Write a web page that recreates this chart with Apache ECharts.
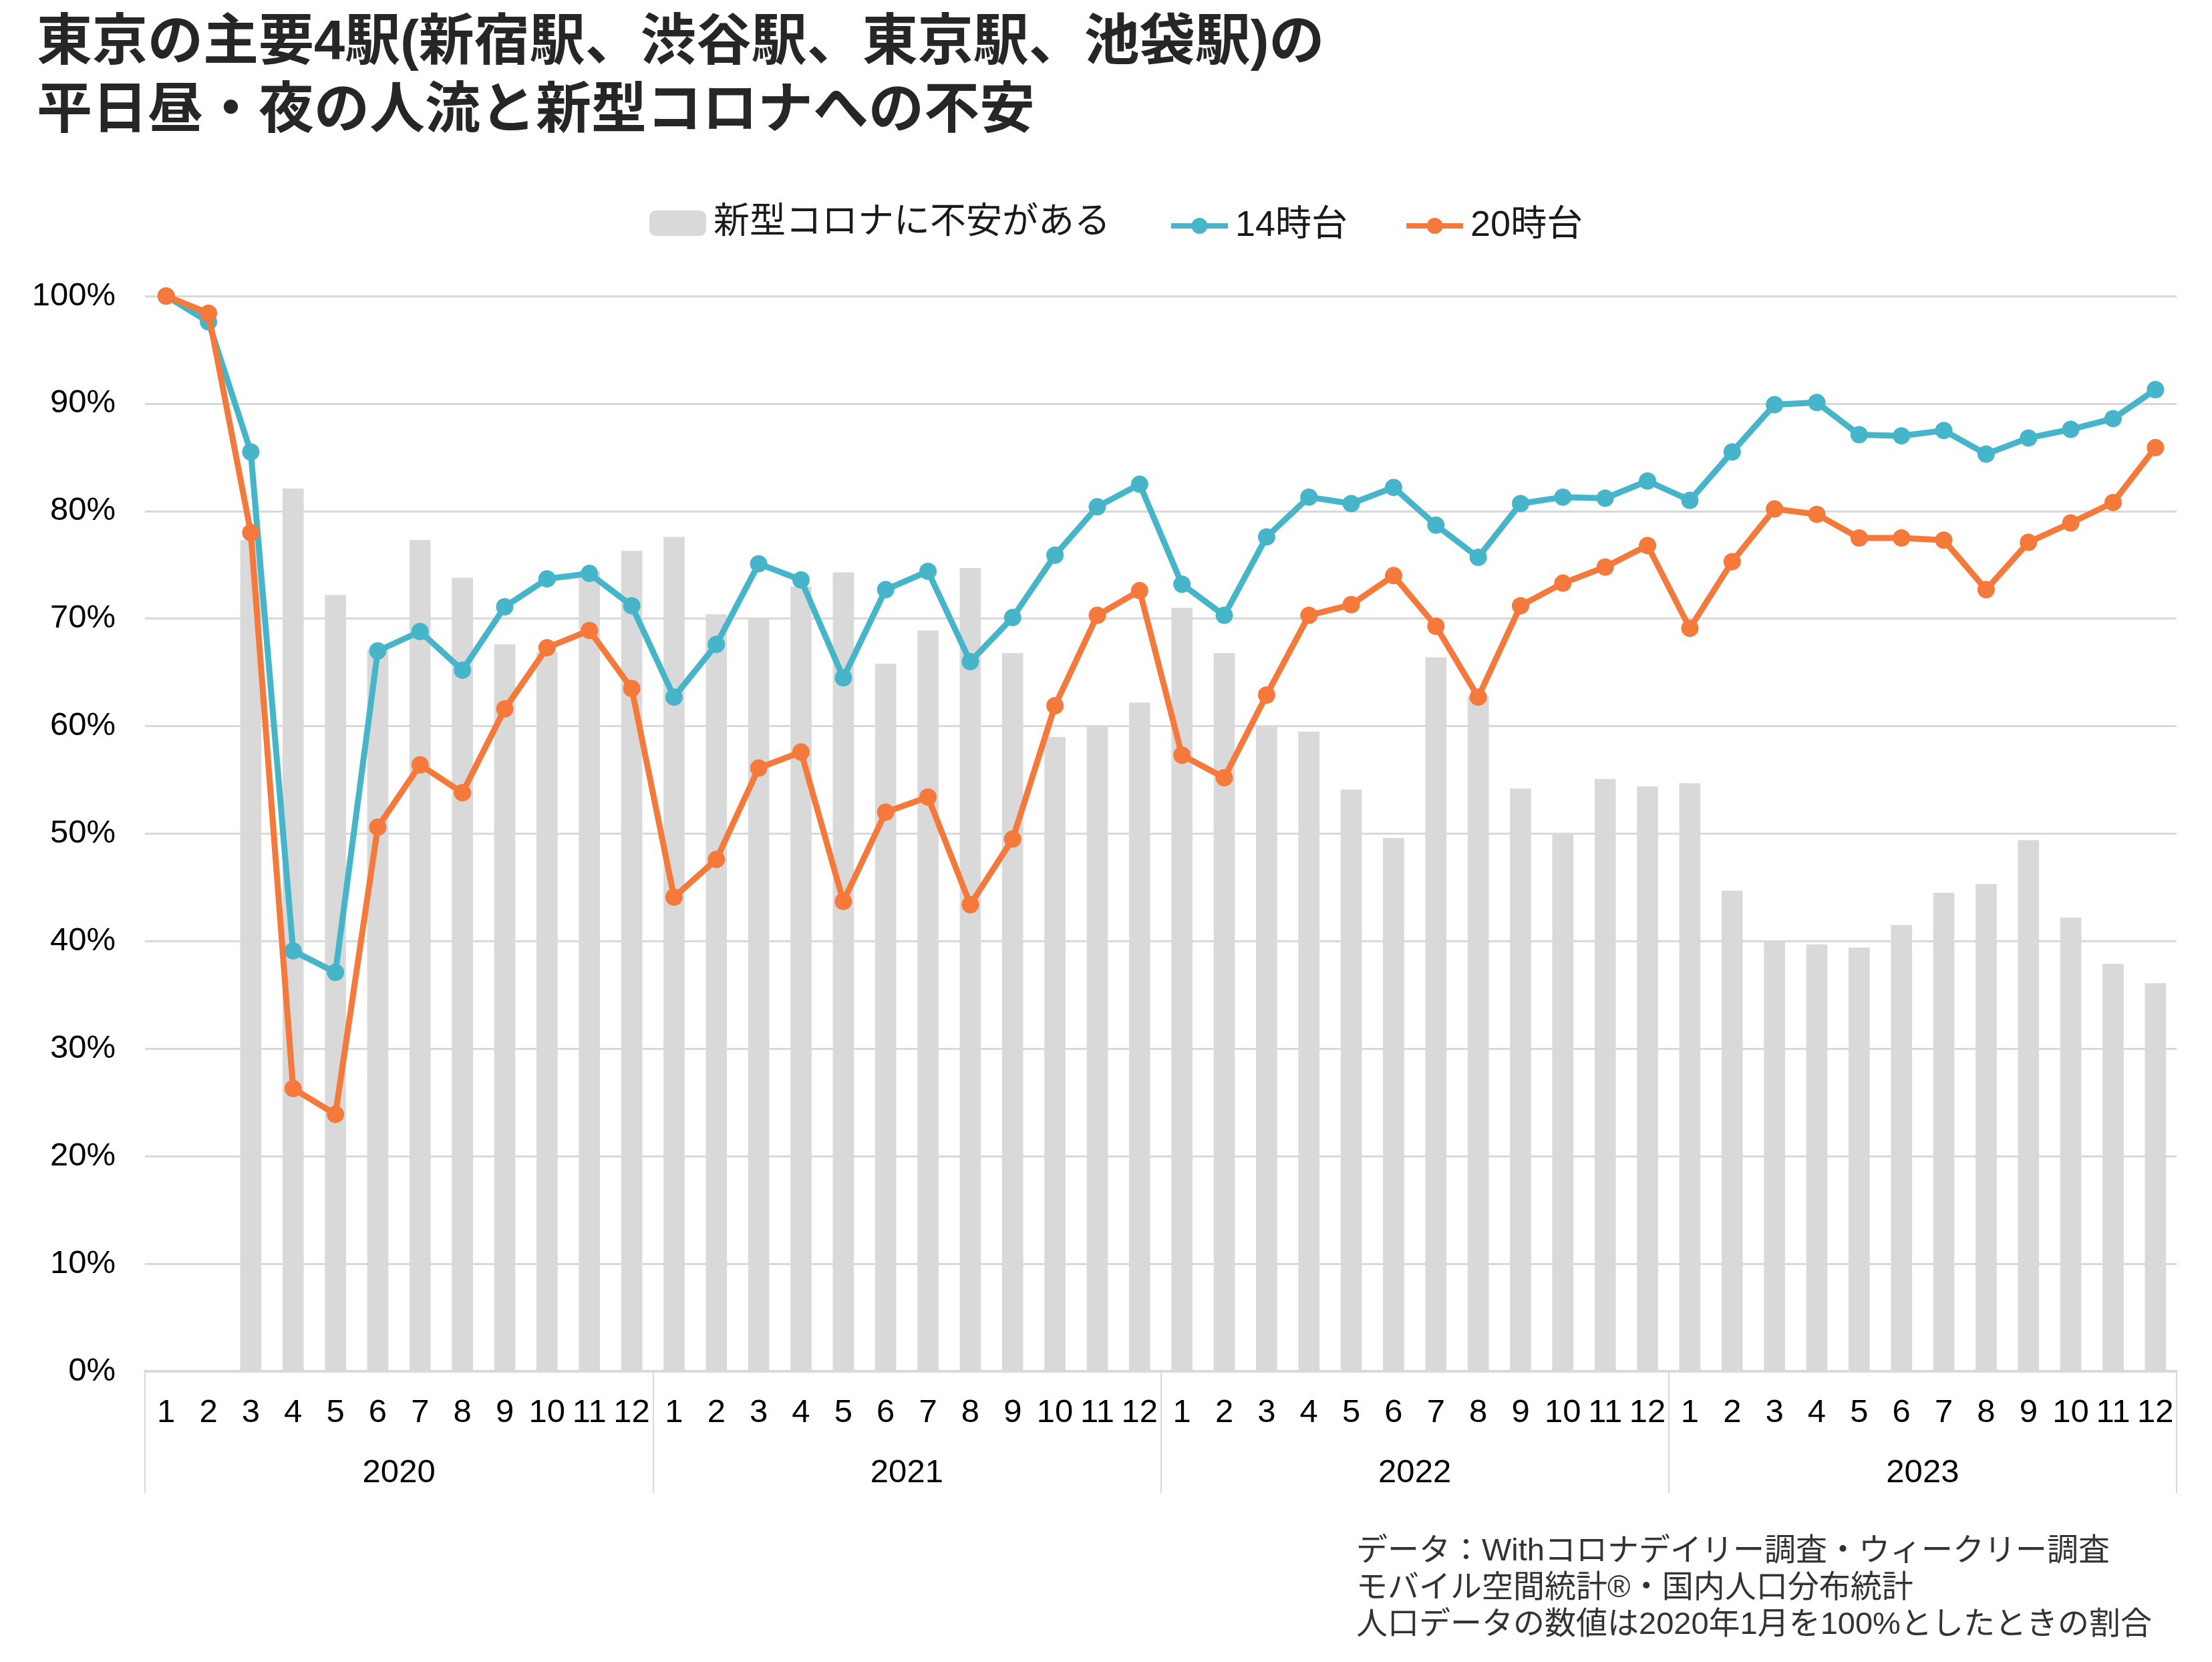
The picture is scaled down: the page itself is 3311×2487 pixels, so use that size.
<!DOCTYPE html>
<html>
<head>
<meta charset="utf-8">
<script src="https://cdn.jsdelivr.net/npm/echarts@6/dist/echarts.min.js"></script>
<style>
html,body{margin:0;padding:0;background:#fff;}
#chart{width:3311px;height:2487px;}
</style>
</head>
<body>
<div id="chart"></div>
<script>
// ---- data ----
const years = ['2020', '2021', '2022', '2023'];
const months = ['1','2','3','4','5','6','7','8','9','10','11','12'];

// 新型コロナに不安がある (%)
const anxiety2020 = [null, null, 77.3, 82.1, 72.2, 67.1, 77.3, 73.8, 67.6, 66.9, 74.4, 76.3];
const anxiety2021 = [77.6, 70.4, 70.0, 73.0, 74.3, 65.8, 68.9, 74.7, 66.8, 59.0, 60.0, 62.2];
const anxiety2022 = [71.0, 66.8, 60.0, 59.5, 54.1, 49.6, 66.4, 62.8, 54.2, 50.0, 55.1, 54.4];
const anxiety2023 = [54.7, 44.7, 40.0, 39.7, 39.4, 41.5, 44.5, 45.3, 49.4, 42.2, 37.9, 36.1];

// 14時台 (%)
const day2020 = [100, 97.6, 85.5, 39.1, 37.1, 67.0, 68.8, 65.2, 71.1, 73.7, 74.2, 71.2];
const day2021 = [62.7, 67.6, 75.1, 73.6, 64.5, 72.7, 74.4, 66.0, 70.1, 75.9, 80.4, 82.5];
const day2022 = [73.2, 70.3, 77.6, 81.3, 80.7, 82.2, 78.7, 75.7, 80.7, 81.3, 81.2, 82.8];
const day2023 = [81.0, 85.5, 89.9, 90.1, 87.1, 87.0, 87.5, 85.3, 86.8, 87.6, 88.6, 91.3];

// 20時台 (%)
const night2020 = [100, 98.4, 78.0, 26.3, 23.9, 50.6, 56.4, 53.8, 61.6, 67.3, 68.9, 63.5];
const night2021 = [44.1, 47.6, 56.1, 57.6, 43.7, 52.0, 53.4, 43.4, 49.5, 61.9, 70.3, 72.6];
const night2022 = [57.3, 55.2, 62.9, 70.3, 71.3, 74.0, 69.3, 62.7, 71.2, 73.3, 74.8, 76.8];
const night2023 = [69.1, 75.3, 80.2, 79.7, 77.5, 77.5, 77.3, 72.7, 77.1, 78.9, 80.8, 85.9];

const yTicks = [0, 10, 20, 30, 40, 50, 60, 70, 80, 90, 100];

const seriesNames = ['新型コロナに不安がある', '14時台', '20時台'];
const titleText = '東京の主要4駅(新宿駅、渋谷駅、東京駅、池袋駅)の\n平日昼・夜の人流と新型コロナへの不安';
const noteText = 'データ：Withコロナデイリー調査・ウィークリー調査\nモバイル空間統計®・国内人口分布統計\n人口データの数値は2020年1月を100%としたときの割合';

// ---- build ----
const monthCats = [];
years.forEach(() => months.forEach(m => monthCats.push(m)));
const anxiety = [].concat(anxiety2020, anxiety2021, anxiety2022, anxiety2023);
const day = [].concat(day2020, day2021, day2022, day2023);
const night = [].concat(night2020, night2021, night2022, night2023);

const FONT = "'Liberation Sans', 'Noto Sans CJK JP', sans-serif";
const GRAY = '#d9d9d9';
const TEAL = '#46b5c9';
const ORANGE = '#f5793a';

const chart = echarts.init(document.getElementById('chart'), null, {renderer: 'canvas'});
chart.setOption({
  animation: false,
  backgroundColor: '#ffffff',
  textStyle: {fontFamily: FONT},
  title: [
    {
      text: titleText,
      left: 50, top: 10,
      textStyle: {fontFamily: FONT, fontSize: 83, fontWeight: 'bold', color: '#262626', lineHeight: 102}
    },
    {
      text: noteText,
      left: 2025, top: 2290,
      textStyle: {fontFamily: FONT, fontSize: 47, fontWeight: 'normal', color: '#333333', lineHeight: 55}
    }
  ],
  legend: [
    {
      data: [seriesNames[0]],
      left: 967, top: 302,
      itemWidth: 85, itemHeight: 38,
      textStyle: {fontFamily: FONT, fontSize: 54, color: '#1a1a1a', padding: [0, 0, 0, 6]}
    },
    {
      data: [seriesNames[1], seriesNames[2]],
      left: 1744, top: 306,
      itemWidth: 85, itemHeight: 30, itemGap: 84,
      lineStyle: {width: 8},
      textStyle: {fontFamily: FONT, fontSize: 54, color: '#1a1a1a', padding: [0, 0, 0, 6]}
    }
  ],
  grid: {left: 217, right: 53, top: 443, bottom: 435, containLabel: false},
  xAxis: [
    {
      type: 'category',
      data: monthCats,
      boundaryGap: true,
      axisLine: {show: true, lineStyle: {color: GRAY, width: 4}},
      axisTick: {show: false},
      axisLabel: {interval: 0, fontSize: 49, color: '#000', margin: 38, fontFamily: FONT},
      splitLine: {show: false}
    },
    {
      type: 'category',
      data: years,
      position: 'bottom',
      boundaryGap: true,
      axisLine: {show: false},
      axisTick: {show: true, interval: 0, length: 182, lineStyle: {color: GRAY, width: 2}},
      axisLabel: {interval: 0, fontSize: 49, color: '#000', margin: 128, fontFamily: FONT},
      splitLine: {show: false}
    }
  ],
  yAxis: {
    type: 'value',
    min: yTicks[0], max: yTicks[yTicks.length - 1], interval: 10,
    axisLine: {show: false},
    axisTick: {show: false},
    axisLabel: {fontSize: 49, color: '#000', margin: 44, formatter: '{value}%', fontFamily: FONT},
    splitLine: {show: true, lineStyle: {color: GRAY, width: 3}}
  },
  series: [
    {
      name: seriesNames[0],
      type: 'bar',
      xAxisIndex: 0,
      data: anxiety,
      barCategoryGap: '50%',
      itemStyle: {color: GRAY},
      emphasis: {disabled: true},
      z: 1
    },
    {
      name: seriesNames[1],
      type: 'line',
      xAxisIndex: 0,
      data: day,
      symbol: 'circle', symbolSize: 26, showAllSymbol: true,
      lineStyle: {color: TEAL, width: 9},
      itemStyle: {color: TEAL},
      emphasis: {disabled: true},
      z: 3
    },
    {
      name: seriesNames[2],
      type: 'line',
      xAxisIndex: 0,
      data: night,
      symbol: 'circle', symbolSize: 26, showAllSymbol: true,
      lineStyle: {color: ORANGE, width: 9},
      itemStyle: {color: ORANGE},
      emphasis: {disabled: true},
      z: 4
    }
  ]
});
</script>
</body>
</html>
